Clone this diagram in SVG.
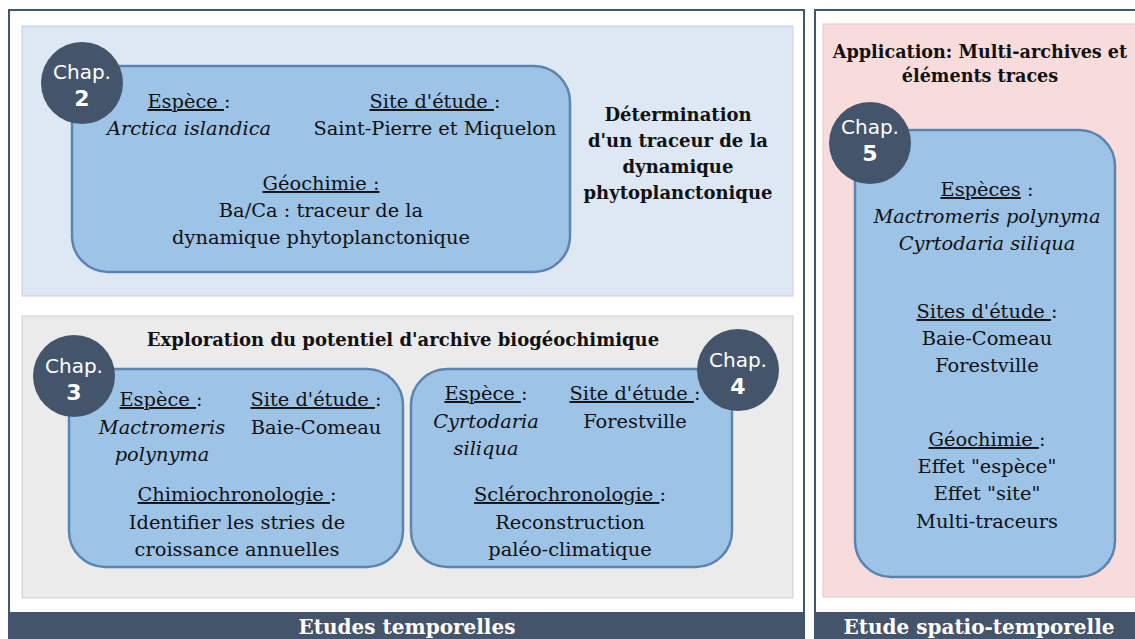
<svg xmlns="http://www.w3.org/2000/svg" width="1135" height="639" viewBox="0 0 1135 639">
<style>
.t{font-family:"DejaVu Serif","Liberation Serif",serif;font-size:19.4px;fill:#111;text-anchor:middle}
.b{font-weight:bold;font-size:18px}
.i{font-style:italic}
.u{text-decoration:underline}
.box{fill:#9dc3e6;stroke:#5b84b1;stroke-width:2.5}
.chap circle{fill:#44546a}
.chap text{font-family:"DejaVu Sans",sans-serif;fill:#fff;text-anchor:middle}
.bar{fill:#44546a}
.bt{font-family:"DejaVu Serif","Liberation Serif",serif;font-size:20px;font-weight:bold;fill:#fff;text-anchor:middle}
</style>
<rect width="1135" height="639" fill="#fff"/>
<g id="frame-left">
<rect x="9" y="10" width="795" height="640" fill="#fff" stroke="#44546a" stroke-width="2"/>
<rect class="bar" x="8" y="612" width="797" height="27"/>
<text class="bt" x="407" y="634">Etudes temporelles</text>
</g>
<g id="frame-right">
<rect x="815" y="10" width="330" height="640" fill="#fff" stroke="#44546a" stroke-width="2"/>
<rect class="bar" x="814" y="612" width="321" height="27"/>
<text class="bt" x="979" y="634">Etude spatio-temporelle</text>
</g>
<g id="panel-top">
<rect x="22" y="26" width="771" height="270" fill="#dde8f4" stroke="#c8d0d8" stroke-width="1"/>
<text class="t b"><tspan x="678" y="121">Détermination</tspan><tspan x="678" y="147">d'un traceur de la</tspan><tspan x="678" y="173">dynamique</tspan><tspan x="678" y="199">phytoplanctonique</tspan></text>
</g>
<g id="panel-mid">
<rect x="22" y="316" width="771" height="282" fill="#ebebeb" stroke="#cccccc" stroke-width="1"/>
<text class="t b" x="403" y="346">Exploration du potentiel d'archive biogéochimique</text>
</g>
<g id="panel-right">
<rect x="823" y="24" width="320" height="573" fill="#f8dcdc" stroke="#e6caca" stroke-width="1"/>
<text class="t b" style="font-size:17.6px"><tspan x="980" y="58">Application: Multi-archives et</tspan><tspan x="980" y="82">éléments traces</tspan></text>
</g>
<g id="chap2">
<rect class="box" x="72" y="66" width="498" height="206" rx="36"/>
<text class="t"><tspan x="189" y="108"><tspan class="u">Espèce </tspan>:</tspan><tspan class="i" x="189" y="135">Arctica islandica</tspan></text>
<text class="t"><tspan x="435" y="108"><tspan class="u">Site d'étude </tspan>:</tspan><tspan x="435" y="135">Saint-Pierre et Miquelon</tspan></text>
<text class="t"><tspan x="321" y="190" class="u">Géochimie :</tspan><tspan x="321" y="217">Ba/Ca : traceur de la</tspan><tspan x="321" y="244">dynamique phytoplanctonique</tspan></text>
<g class="chap"><circle cx="82" cy="83" r="41"/><text x="82" y="79" font-size="20">Chap.</text><text x="82" y="106" font-size="22" font-weight="bold">2</text></g>
</g>
<g id="chap3">
<rect class="box" x="69" y="369" width="334" height="198" rx="36"/>
<text class="t"><tspan x="161" y="406"><tspan class="u">Espèce </tspan>:</tspan><tspan class="i" x="162" y="434">Mactromeris</tspan><tspan class="i" x="162" y="461">polynyma</tspan></text>
<text class="t"><tspan x="316" y="406"><tspan class="u">Site d'étude </tspan>:</tspan><tspan x="316" y="434">Baie-Comeau</tspan></text>
<text class="t"><tspan x="237" y="501"><tspan class="u">Chimiochronologie </tspan>:</tspan><tspan x="237" y="529">Identifier les stries de</tspan><tspan x="237" y="556">croissance annuelles</tspan></text>
<g class="chap"><circle cx="74" cy="376" r="41"/><text x="74" y="373" font-size="20">Chap.</text><text x="74" y="400" font-size="22" font-weight="bold">3</text></g>
</g>
<g id="chap4">
<rect class="box" x="411" y="369" width="321" height="198" rx="36"/>
<text class="t"><tspan x="486" y="400"><tspan class="u">Espèce </tspan>:</tspan><tspan class="i" x="486" y="428">Cyrtodaria</tspan><tspan class="i" x="486" y="455">siliqua</tspan></text>
<text class="t"><tspan x="635" y="400"><tspan class="u">Site d'étude </tspan>:</tspan><tspan x="635" y="428">Forestville</tspan></text>
<text class="t"><tspan x="570" y="501"><tspan class="u">Sclérochronologie </tspan>:</tspan><tspan x="570" y="529">Reconstruction</tspan><tspan x="570" y="556">paléo-climatique</tspan></text>
<g class="chap"><circle cx="738" cy="370" r="41"/><text x="738" y="367" font-size="20">Chap.</text><text x="738" y="394" font-size="22" font-weight="bold">4</text></g>
</g>
<g id="chap5">
<rect class="box" x="855" y="130" width="260" height="447" rx="36"/>
<text class="t"><tspan x="987" y="196"><tspan class="u">Espèces</tspan> :</tspan><tspan class="i" x="987" y="223">Mactromeris polynyma</tspan><tspan class="i" x="987" y="250">Cyrtodaria siliqua</tspan></text>
<text class="t"><tspan x="987" y="318"><tspan class="u">Sites d'étude </tspan>:</tspan><tspan x="987" y="345">Baie-Comeau</tspan><tspan x="987" y="372">Forestville</tspan></text>
<text class="t"><tspan x="987" y="446"><tspan class="u">Géochimie </tspan>:</tspan><tspan x="987" y="473">Effet "espèce"</tspan><tspan x="987" y="500">Effet "site"</tspan><tspan x="987" y="528">Multi-traceurs</tspan></text>
<g class="chap"><circle cx="870" cy="143" r="41"/><text x="870" y="134" font-size="20">Chap.</text><text x="870" y="161" font-size="22" font-weight="bold">5</text></g>
</g>
</svg>
